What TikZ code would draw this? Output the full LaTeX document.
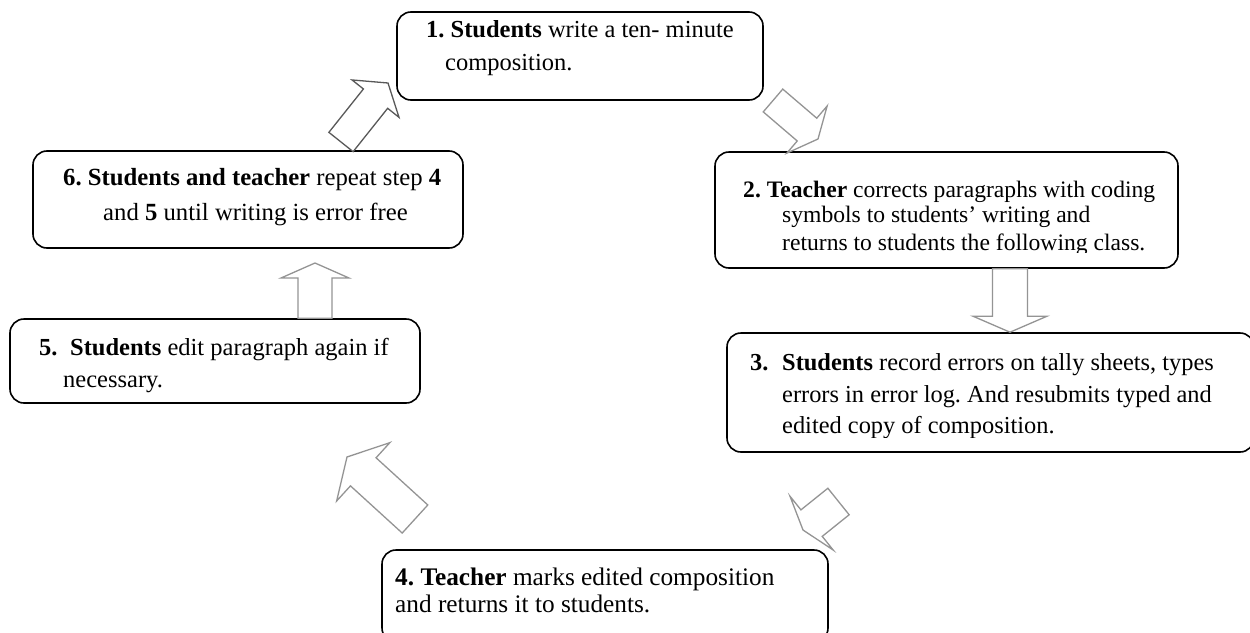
\documentclass[tikz,border=0pt]{standalone}
\usepackage{fontspec}
\setmainfont{Liberation Serif}
\usetikzlibrary{calc}
\frenchspacing
\newcommand{\blockarr}[5]{%
  \coordinate (#2h) at ($(#2e)!#5!(#2s)$);
  \draw[#1] ($(#2s)!#3!90:(#2e)$) -- ($(#2h)!#3!90:(#2e)$) -- ($(#2h)!#4!90:(#2e)$)
    -- (#2e) -- ($(#2h)!#4!-90:(#2e)$) -- ($(#2h)!#3!-90:(#2e)$) -- ($(#2s)!#3!-90:(#2e)$) -- cycle;
}
\begin{document}
\begin{tikzpicture}[x=1pt,y=-1pt,
  box/.style={draw=black, line width=1.6pt, rounded corners=14pt, inner sep=0pt, fill=white},
  txt/.style={anchor=base west, inner sep=0pt, font=\fontsize{#1}{26}\selectfont\frenchspacing},
  txt/.default=24.4,
  barrow/.style={draw=black!42, fill=white, line width=1.3pt, line join=miter},
  darrow/.style={draw=black!65, fill=white, line width=1.3pt, line join=miter},
]
\useasboundingbox[fill=white] (0,0) rectangle (1250,632);
\clip (0,0) rectangle (1250,632);

% boxes
\node[box, minimum width=366pt, minimum height=88pt] (b1) at (580,56) {};
\node[box, minimum width=463pt, minimum height=116pt] (b2) at (946.5,210) {};
\node[box, minimum width=527pt, minimum height=119pt] (b3) at (990.5,392.5) {};
\node[box, minimum width=446pt, minimum height=92pt] (b4) at (605,596) {};
\node[box, minimum width=410pt, minimum height=84pt] (b5) at (215,361) {};
\node[box, minimum width=430pt, minimum height=97pt] (b6) at (248,199.5) {};

% texts
\node[txt=24.5] (t1a) at (426,37) {\textbf{1. Students} write a ten- minute};
\node[txt=24.5] (t1b) at (445,70) {composition.};

\node[txt=23.6] (t2a) at (743,197) {\textbf{2. Teacher} corrects paragraphs with coding};
\node[txt=23.6] (t2b) at (782,222) {symbols to students’ writing and};
\begin{scope}
  \clip (700,230) rectangle (1200,252);
  \node[txt=23.6] (t2c) at (782,250) {returns to students the following class.};
\end{scope}

\node[txt=24.4] (t3n) at (750,370) {\textbf{3.}};
\node[txt=24.4] (t3a) at (782,370) {\textbf{Students} record errors on tally sheets, types};
\node[txt=24.4] (t3b) at (782,402) {errors in error log. And resubmits typed and};
\begin{scope}
  \clip (740,410) rectangle (1250,437);
  \node[txt=24.4] (t3c) at (782,433) {edited copy of composition.};
\end{scope}

\node[txt=25.3] (t4a) at (395,585) {\textbf{4. Teacher} marks edited composition};
\node[txt=25.3] (t4b) at (395,612) {and returns it to students.};

\node[txt=24.5] (t5n) at (39,355) {\textbf{5.}};
\node[txt=24.5] (t5a) at (70,355) {\textbf{Students} edit paragraph again if};
\node[txt=24.5] (t5b) at (63,387) {necessary.};

\node[txt=24.7] (t6a) at (63,185) {\textbf{6. Students and teacher} repeat step \textbf{4}};
\node[txt=24.7] (t6b) at (103,220) {and \textbf{5} until writing is error free};

% block arrows
\coordinate (a61s) at (341,142); \coordinate (a61e) at (388,83);
\coordinate (a12s) at (773,100.5); \coordinate (a12e) at (818,139);
\coordinate (a23s) at (b2.south -| 1010,0); \coordinate (a23e) at (b3.north -| 1010,0);
\coordinate (a34s) at (838.5,501.5); \coordinate (a34e) at (803,530);
\coordinate (a45s) at (415,519); \coordinate (a45e) at (347,457);
\coordinate (a56s) at (b5.north -| 315,0); \coordinate (a56e) at (315,263);

\blockarr{darrow}{a61}{15.5pt}{30pt}{20pt}
\blockarr{barrow}{a12}{15pt}{31pt}{14.5pt}
\blockarr{barrow}{a23}{17.5pt}{37pt}{16pt}
\blockarr{barrow}{a34}{17pt}{34.5pt}{11pt}
\blockarr{barrow}{a45}{19pt}{39.5pt}{22pt}
\blockarr{barrow}{a56}{17pt}{34pt}{15pt}
\end{tikzpicture}
\end{document}
